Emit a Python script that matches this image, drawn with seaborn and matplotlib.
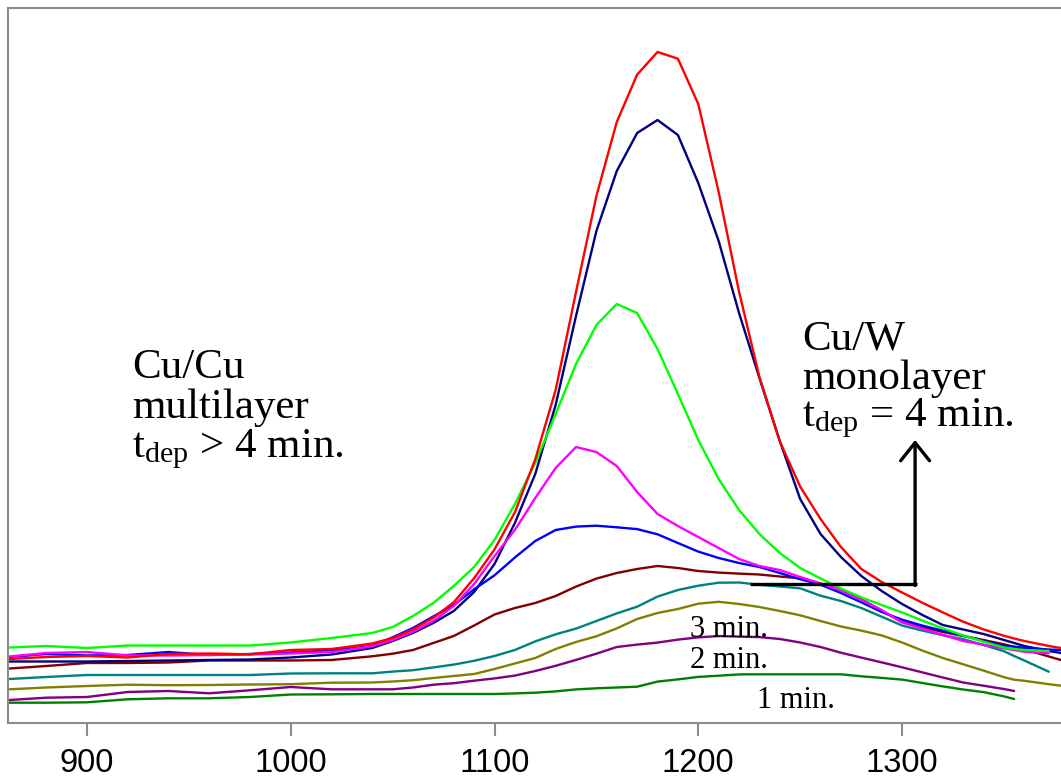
import numpy as np
import pandas as pd
import seaborn as sns
import matplotlib.pyplot as plt

# x positions (shared by all curves)
x_vals = [862, 880, 900, 920, 940, 960, 980, 1000, 1020,
          1040, 1050, 1060, 1070, 1080, 1090, 1100, 1110, 1120, 1130,
          1140, 1150, 1160, 1170, 1180, 1190, 1200, 1210, 1220, 1230,
          1240, 1250, 1260, 1270, 1280, 1290, 1300, 1310, 1320, 1330,
          1340, 1350, 1355, 1360, 1372, 1378]
nan = np.nan

red = [64, 66, 67, 65.5, 69, 69.5, 68.7, 73, 74,
       79.5, 85, 93.6, 105.3, 120.8, 144.8, 173.6, 210.7, 263.7, 333,
       431, 527, 601, 648.4, 671, 664.3, 619, 531, 431.4, 346,
       281.5, 236.4, 204, 176, 154, 141, 130.5, 120.2, 110.6, 101.3,
       93.6, 87.2, 84.5, 82, 77, 75]
navy = [61.5, 61.5, 61.5, 62, 62.5, 63, 63.5, 65.5, 68.5,
        75, 82, 90, 100, 112, 131, 159, 200, 249, 318,
        407, 492, 552, 590, 603, 588, 540, 482, 410, 345,
        282, 224, 189, 166, 147, 132, 119, 108, 98, 93.5,
        89, 83, 80, 77, 72, 70]
lime = [75.5, 77, 75, 77.5, 77.5, 77.5, 77.5, 80.5, 85,
        90, 96, 107, 120, 137, 156, 183, 219, 260, 309,
        359, 398, 419, 410, 374, 329, 283, 244, 213, 189,
        170, 155, 144.5, 134.5, 125.6, 118, 110.6, 102.4, 94.7, 87.6,
        81.3, 75.5, 74, 73, 72, nan]
magenta = [66.5, 70, 71, 67.6, 67.5, 68, 68.5, 69.5, 71,
           76.7, 83, 91.3, 102, 117, 139, 167, 193, 225, 255,
           276, 271, 257, 231, 209, 197, 186, 175, 164, 157,
           153, 146, 139.5, 132.5, 123, 113, 100.7, 94.4, 88.2, 82,
           78.3, 74.7, 73, 71.2, 69.7, nan]
blue = [66, 69, 67.5, 68, 71, 68, 69, 70.5, 72.5,
        77, 85.7, 95, 106.6, 118, 133.7, 147.7, 165.5, 182, 193,
        196.4, 197.3, 195.7, 193.9, 188.7, 180, 171.4, 165, 160, 156,
        150, 143.8, 138.3, 130, 120.7, 111, 103.3, 97.4, 92.3, 87.3,
        82, 77.3, 76.3, 75.4, 73.5, 73]
maroon = [54.5, 57, 60, 60, 60.5, 62.5, 62.5, 62.5, 63,
          66.7, 69.3, 73, 80, 87, 97.5, 108.5, 115, 120, 127,
          136.4, 144.4, 150, 154, 157, 155, 152, 150.4, 149.4, 148.5,
          146.5, 144.7, 139.5, 132.8, 123.8, 112.4, 100.8, 95.7, 91, 87,
          83, 78.7, 76.2, 73.7, 66.5, 63]
teal = [44, 46, 48, 48, 48, 48, 48, 49.5, 49.7,
        49.7, 51.4, 52.8, 55.6, 58.4, 62.2, 67, 73, 81.6, 88.7,
        94.4, 102, 109.6, 116.3, 126.4, 133, 137.3, 140.3, 140.5, 138.2,
        136.5, 134.7, 127.3, 122, 115, 106.3, 97.5, 92.4, 87.8, 83.8,
        78, 71.8, 67, 62.5, 51.3, nan]
olive = [33.7, 35.5, 37, 38.3, 37.8, 38, 38.5, 38.8, 40.3,
         40.5, 41.5, 42.8, 45, 47, 49, 54, 59.5, 65, 74,
         81, 86.7, 94.6, 104, 110, 114, 119.3, 121.2, 119, 116,
         112, 107.7, 102, 96.5, 92.4, 87.6, 80.5, 72.4, 65, 58.7,
         52.4, 45.8, 43.3, 42.2, 38.8, 37.3]
purple = [23, 25.3, 26, 31, 32, 29.7, 32.7, 36, 33.7,
          33.7, 33.7, 35.5, 38.3, 39.8, 42.3, 44.6, 47.4, 52, 57.2,
          63.1, 69.3, 76, 78.4, 80.4, 83.4, 85.6, 87, 86.4, 85.9,
          84, 80.5, 76, 70.3, 65.4, 60.6, 55.7, 50.6, 45.5, 40.5,
          37.3, 34, 32, nan, nan, nan]
green = [20.3, 20.3, 20.7, 23.7, 24.7, 24.7, 26, 28.5, 28.7,
         29, 29, 29, 29, 29, 29, 29, 29.6, 30.3, 31.6,
         33.6, 34.7, 35.5, 36.3, 41.4, 43.6, 46.1, 47.3, 48.6, 48.7,
         48.7, 48.7, 48.7, 48.7, 46.7, 45.1, 43.4, 40, 36.6, 33.5,
         30.9, 26.6, 24, nan, nan, nan]

curves = {"green": green, "purple": purple, "olive": olive, "teal": teal,
          "maroon": maroon, "navy": navy, "blue": blue, "magenta": magenta,
          "lime": lime, "red": red}
palette = {"green": "#008000", "purple": "#800080", "olive": "#808000",
           "teal": "#008080", "maroon": "#800000", "navy": "#000080",
           "blue": "#0000FF", "magenta": "#FF00FF", "lime": "#00FF00",
           "red": "#FF0000"}

for k, v in curves.items():
    assert len(v) == len(x_vals), (k, len(v))

df = pd.concat([pd.DataFrame({"x": x_vals, "y": v, "curve": k})
                for k, v in curves.items()]).dropna()

sns.set_style("white")
plt.rcParams["font.family"] = ["Liberation Sans", "DejaVu Sans"]
plt.rcParams["mathtext.default"] = "regular"
plt.rcParams["text.color"] = "black"

fig = plt.figure(figsize=(10.61, 7.79), dpi=100)
ax = fig.add_axes([8.3 / 1061, 56 / 779, 1 - 8.3 / 1061, 715.3 / 779])

sns.lineplot(data=df, x="x", y="y", hue="curve", hue_order=list(curves),
             palette=palette, estimator=None, sort=False, legend=False,
             linewidth=1.7, ax=ax)

ax.set_xlim(861.4, 1378)
ax.set_ylim(0, 715.3)
ax.set_xticks([900, 1000, 1100, 1200, 1300])
ax.set_yticks([])
ax.set_xlabel("")
ax.set_ylabel("")
ax.tick_params(axis="x", bottom=True, direction="out", length=9.1, width=1.5,
               color="#8c8c8c", pad=9, labelsize=23.5, labelcolor="black")
for side in ["left", "top", "bottom"]:
    ax.spines[side].set_color("#8c8c8c")
    ax.spines[side].set_linewidth(1.5)
ax.spines["right"].set_visible(False)

# annotations
serif = "Liberation Serif"
big = 31
left_lines = ["Cu/Cu", "multilayer", r"t$_{\mathregular{dep}}$ > 4 min."]
left_base = [345, 305, 266]
for s, yb in zip(left_lines, left_base):
    ax.text(922, yb, s, fontsize=big, family=serif, color="black",
            va="baseline", ha="left")

right_lines = ["Cu/W", "monolayer", r"t$_{\mathregular{dep}}$ = 4 min."]
right_base = [374, 334, 297]
for s, yb in zip(right_lines, right_base):
    ax.text(1251, yb, s, fontsize=big, family=serif, color="black",
            va="baseline", ha="left")

small_labels = ["3 min.", "2 min.", "1 min."]
small_pos = [(1196, 86), (1196, 55), (1229, 15)]
for s, (xx, yy) in zip(small_labels, small_pos):
    ax.text(xx, yy, s, fontsize=22, family=serif, color="black",
            va="baseline", ha="left")

# bracket arrow
arrow_x0, arrow_x1, arrow_y0, arrow_tip = 1225.4, 1306.4, 138.7, 283
ax.plot([arrow_x0, arrow_x1 + 0.8], [arrow_y0, arrow_y0], color="black",
        lw=2.4, solid_capstyle="butt", zorder=4)
ax.annotate("", xy=(arrow_x1, arrow_tip), xytext=(arrow_x1, arrow_y0 - 1.2),
            arrowprops=dict(arrowstyle="->,head_length=0.65,head_width=0.52",
                            lw=2.4, color="black", shrinkA=0, shrinkB=0,
                            mutation_scale=20), zorder=4)

fig.savefig("out.png", dpi=100)
